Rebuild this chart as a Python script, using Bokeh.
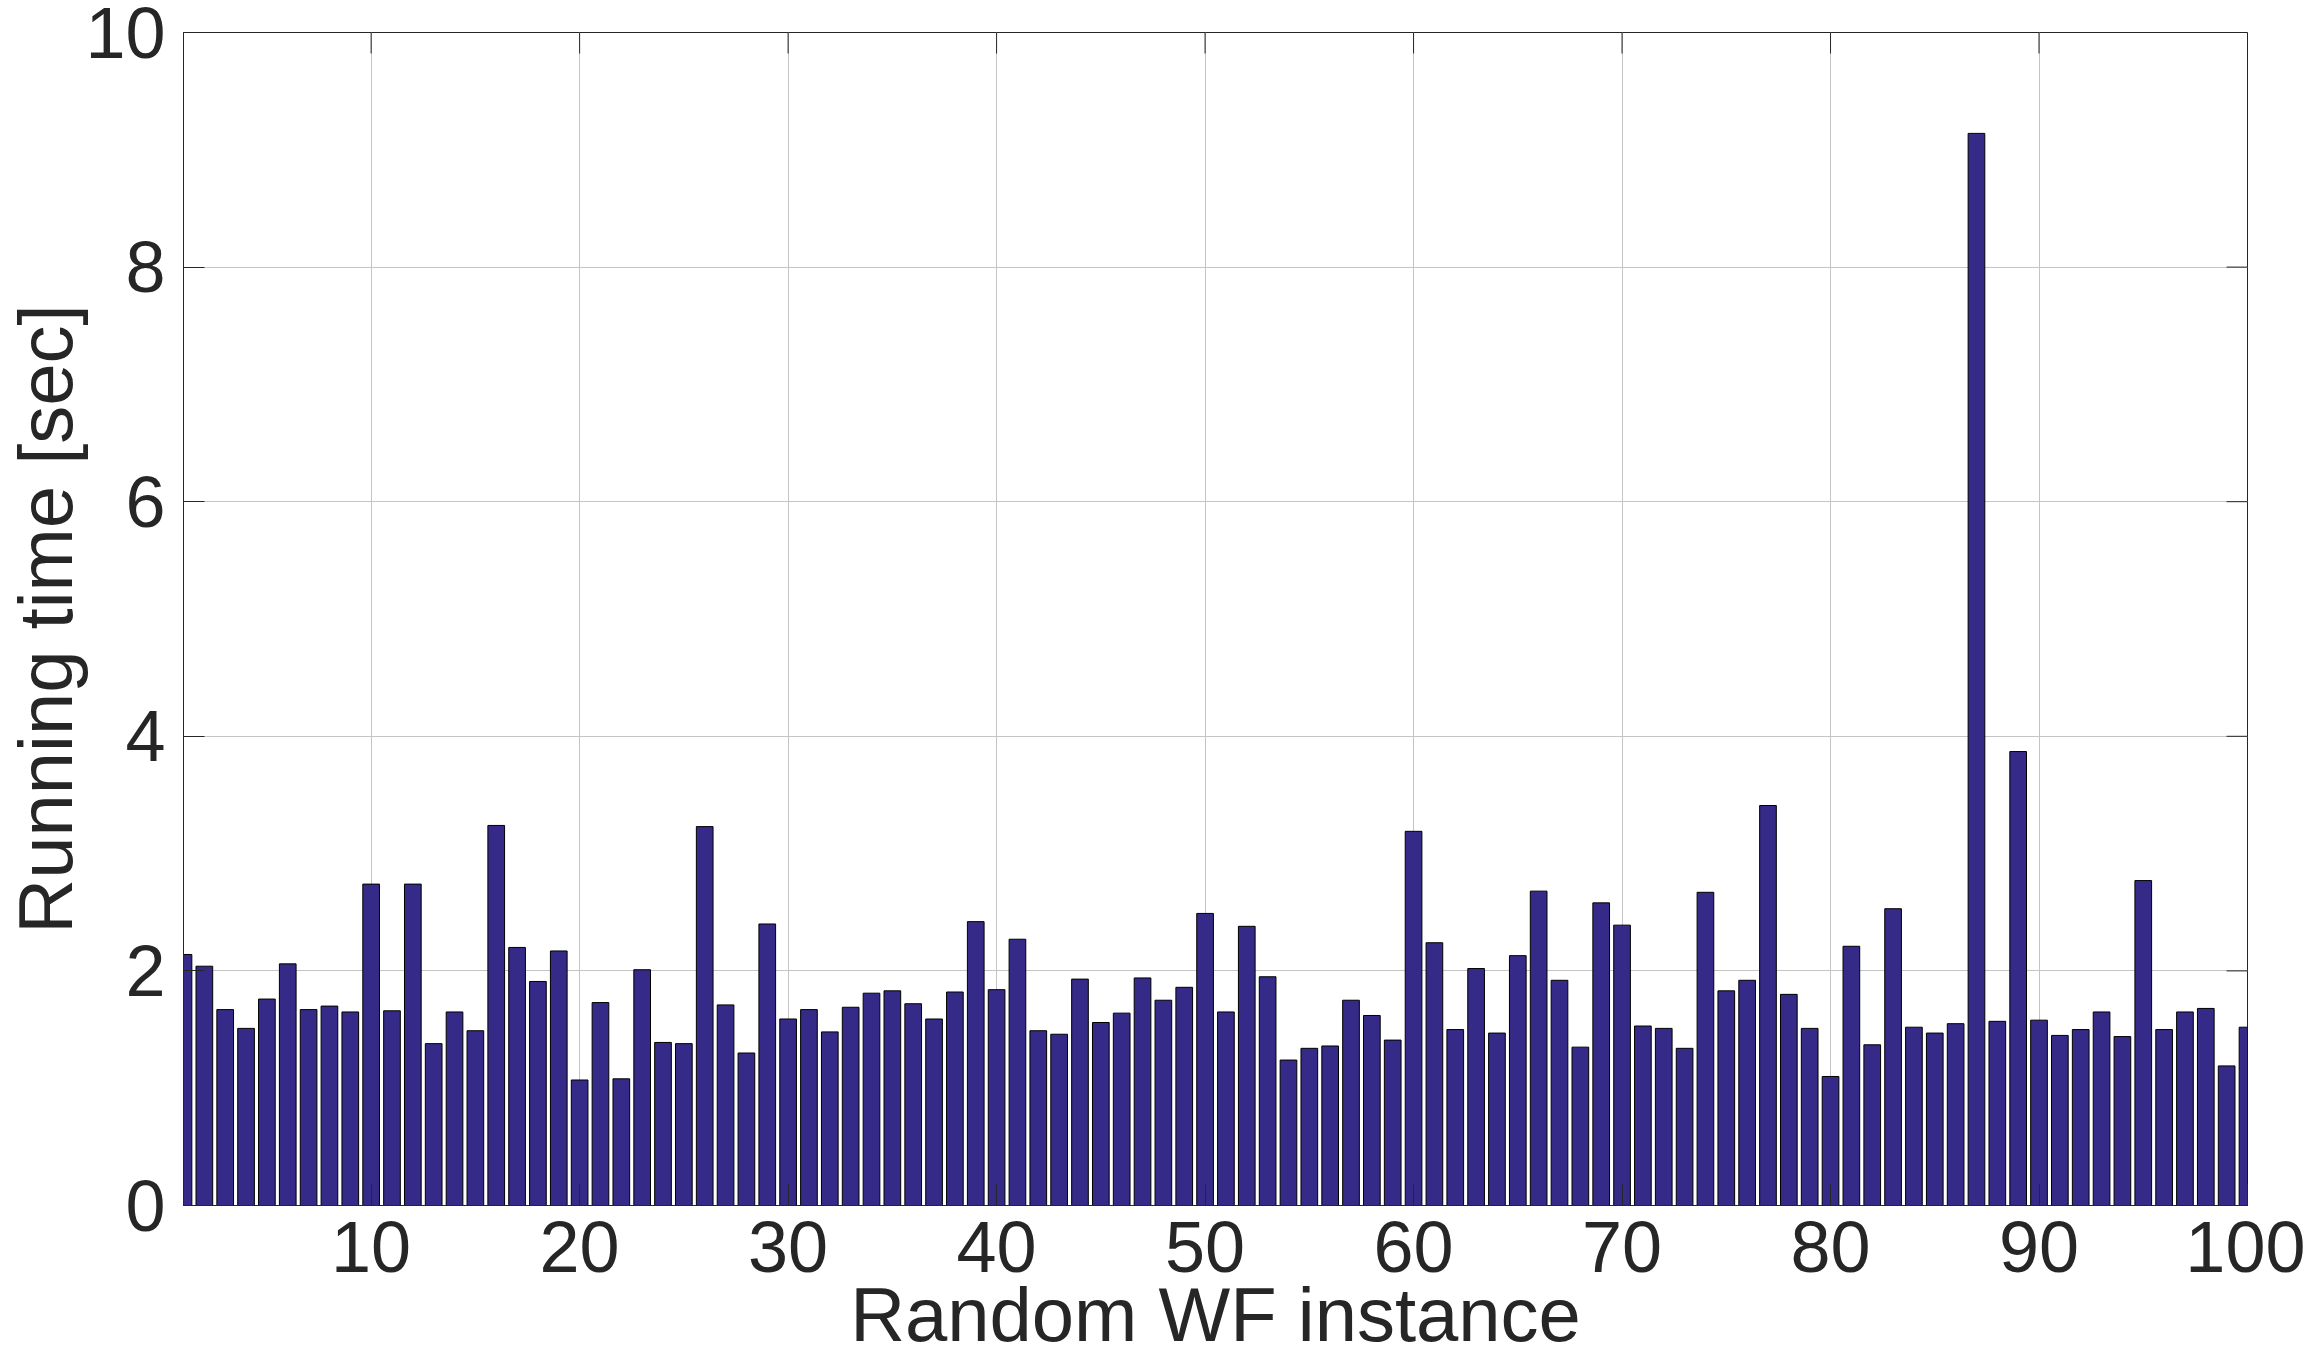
from math import pi
from bokeh.plotting import figure
from bokeh.models import Range1d, FixedTicker
from bokeh.embed import file_html
from bokeh.resources import INLINE

# ---- data ----
instances = list(range(1, 101))
running_time = [
    2.14, 2.04, 1.67, 1.51, 1.76, 2.06, 1.67, 1.70, 1.65, 2.74,
    1.66, 2.74, 1.38, 1.65, 1.49, 3.24, 2.20, 1.91, 2.17, 1.07,
    1.73, 1.08, 2.01, 1.39, 1.38, 3.23, 1.71, 1.30, 2.40, 1.59,
    1.67, 1.48, 1.69, 1.81, 1.83, 1.72, 1.59, 1.82, 2.42, 1.84,
    2.27, 1.49, 1.46, 1.93, 1.56, 1.64, 1.94, 1.75, 1.86, 2.49,
    1.65, 2.38, 1.95, 1.24, 1.34, 1.36, 1.75, 1.62, 1.41, 3.19,
    2.24, 1.50, 2.02, 1.47, 2.13, 2.68, 1.92, 1.35, 2.58, 2.39,
    1.53, 1.51, 1.34, 2.67, 1.83, 1.92, 3.41, 1.80, 1.51, 1.10,
    2.21, 1.37, 2.53, 1.52, 1.47, 1.55, 9.14, 1.57, 3.87, 1.58,
    1.45, 1.50, 1.65, 1.44, 2.77, 1.50, 1.65, 1.68, 1.19, 1.52,
]
x_ticks = [10, 20, 30, 40, 50, 60, 70, 80, 90, 100]
y_ticks = [0, 2, 4, 6, 8, 10]
x_min, x_max = 1, 100
y_min, y_max = 0, 10
x_title = "Random WF instance"
y_title = "Running time [sec]"

TEXT = "#262626"
FONT = "Liberation Sans"

p = figure(width=2305, height=1361, output_backend="svg", toolbar_location=None,
           x_range=Range1d(x_min, x_max), y_range=Range1d(y_min, y_max),
           min_border_left=179, min_border_right=58, min_border_top=32,
           min_border_bottom=156)
p.background_fill_color = "white"
p.border_fill_color = "white"
p.outline_line_color = TEXT
p.outline_line_width = 1

p.xgrid.ticker = FixedTicker(ticks=x_ticks)
p.ygrid.ticker = FixedTicker(ticks=y_ticks)
p.xgrid.grid_line_color = "#c4c4c4"
p.ygrid.grid_line_color = "#c4c4c4"
p.xgrid.grid_line_width = 1
p.ygrid.grid_line_width = 1

p.vbar(x=instances, top=running_time, width=0.8, bottom=0,
       fill_color="#352a87", line_color="#000000", line_width=1)

# inward tick marks on the top and right edges of the box
p.ray(x=x_ticks, y=[y_max] * len(x_ticks), length=21, length_units="screen",
      angle=-pi / 2, line_color=TEXT, line_width=1)
p.ray(x=[x_max] * len(y_ticks), y=y_ticks, length=21, length_units="screen",
      angle=pi, line_color=TEXT, line_width=1)

for ax in (p.xaxis[0], p.yaxis[0]):
    ax.axis_line_color = TEXT
    ax.axis_line_width = 1
    ax.major_tick_line_color = TEXT
    ax.major_tick_in = 21
    ax.major_tick_out = 0
    ax.minor_tick_line_color = None
    ax.major_label_text_font = FONT
    ax.major_label_text_font_size = "72px"
    ax.major_label_text_color = TEXT
    ax.axis_label_text_font = FONT
    ax.axis_label_text_font_size = "76px"
    ax.axis_label_text_font_style = "normal"
    ax.axis_label_text_color = TEXT

p.xaxis[0].ticker = FixedTicker(ticks=x_ticks)
p.yaxis[0].ticker = FixedTicker(ticks=y_ticks)
p.xaxis[0].axis_label = x_title
p.yaxis[0].axis_label = y_title
p.xaxis[0].major_label_standoff = 16
p.yaxis[0].major_label_standoff = 18
p.xaxis[0].axis_label_standoff = -3
p.yaxis[0].axis_label_standoff = -6

open("out.html", "w").write(file_html(p, INLINE))
